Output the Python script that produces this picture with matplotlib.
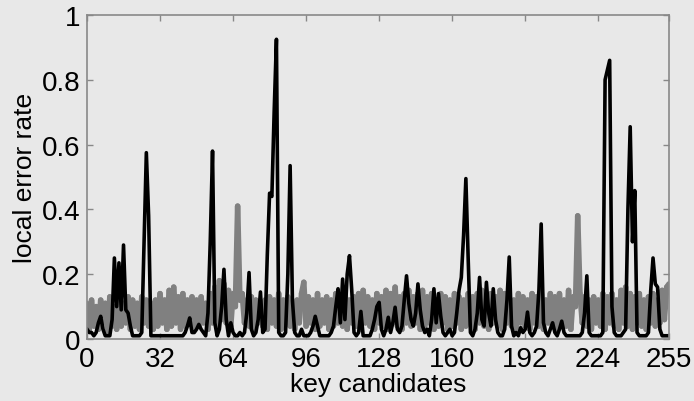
import numpy as np
import matplotlib
matplotlib.use('Agg')
import matplotlib.pyplot as plt
from matplotlib.collections import LineCollection

# error rate of the correct key hypothesis (black) per key candidate
correct = [
    0.03, 0.02, 0.02, 0.01, 0.02, 0.05, 0.07, 0.03, 0.01, 0.01, 0.01, 0.06, 0.25, 0.10, 0.235, 0.09,
    0.29, 0.09, 0.08, 0.04, 0.01, 0.01, 0.01, 0.01, 0.02, 0.30, 0.575, 0.38, 0.01, 0.01, 0.01, 0.01,
    0.01, 0.01, 0.01, 0.01, 0.01, 0.01, 0.01, 0.01, 0.01, 0.01, 0.01, 0.02, 0.04, 0.065, 0.02, 0.02,
    0.03, 0.045, 0.03, 0.02, 0.01, 0.08, 0.30, 0.58, 0.05, 0.01, 0.03, 0.10, 0.215, 0.06, 0.01, 0.05,
    0.02, 0.01, 0.01, 0.02, 0.01, 0.02, 0.08, 0.205, 0.03, 0.01, 0.02, 0.06, 0.145, 0.02, 0.03, 0.26,
    0.45, 0.44, 0.70, 0.925, 0.02, 0.01, 0.01, 0.02, 0.20, 0.535, 0.12, 0.02, 0.01, 0.01, 0.03, 0.01,
    0.01, 0.01, 0.02, 0.04, 0.07, 0.04, 0.01, 0.01, 0.01, 0.01, 0.01, 0.02, 0.04, 0.10, 0.155, 0.05,
    0.185, 0.06, 0.20, 0.257, 0.15, 0.02, 0.01, 0.02, 0.085, 0.01, 0.01, 0.01, 0.01, 0.03, 0.06, 0.10,
    0.113, 0.03, 0.01, 0.03, 0.067, 0.02, 0.05, 0.098, 0.03, 0.02, 0.04, 0.12, 0.195, 0.11, 0.06, 0.04,
    0.08, 0.17, 0.09, 0.04, 0.02, 0.03, 0.01, 0.06, 0.155, 0.05, 0.14, 0.07, 0.02, 0.01, 0.02, 0.03,
    0.01, 0.02, 0.08, 0.15, 0.19, 0.32, 0.495, 0.25, 0.02, 0.01, 0.03, 0.08, 0.19, 0.06, 0.04, 0.175,
    0.08, 0.04, 0.155, 0.06, 0.02, 0.01, 0.01, 0.03, 0.12, 0.253, 0.04, 0.01, 0.02, 0.01, 0.035, 0.02,
    0.03, 0.083, 0.02, 0.01, 0.02, 0.04, 0.15, 0.355, 0.05, 0.02, 0.01, 0.03, 0.05, 0.02, 0.01, 0.03,
    0.055, 0.02, 0.01, 0.01, 0.01, 0.01, 0.01, 0.01, 0.01, 0.02, 0.08, 0.195, 0.02, 0.01, 0.01, 0.01,
    0.01, 0.01, 0.02, 0.80, 0.83, 0.86, 0.10, 0.02, 0.01, 0.01, 0.01, 0.02, 0.03, 0.40, 0.655, 0.30,
    0.458, 0.02, 0.01, 0.01, 0.01, 0.01, 0.02, 0.15, 0.25, 0.17, 0.16, 0.03, 0.01, 0.01, 0.01, 0.01,
]

# error rate of the wrong hypotheses (gray band)
wrong = [
    0.11, 0.03, 0.12, 0.04, 0.10, 0.03, 0.12, 0.05, 0.11, 0.02, 0.13, 0.04, 0.10, 0.03, 0.12, 0.04,
    0.11, 0.05, 0.13, 0.03, 0.12, 0.04, 0.11, 0.03, 0.13, 0.05, 0.12, 0.04, 0.11, 0.03, 0.12, 0.04,
    0.14, 0.05, 0.12, 0.03, 0.15, 0.04, 0.16, 0.05, 0.13, 0.03, 0.14, 0.04, 0.12, 0.05, 0.13, 0.03,
    0.12, 0.04, 0.13, 0.05, 0.11, 0.03, 0.14, 0.05, 0.16, 0.04, 0.18, 0.06, 0.17, 0.05, 0.15, 0.04,
    0.14, 0.10, 0.41, 0.12, 0.14, 0.05, 0.12, 0.04, 0.13, 0.03, 0.12, 0.05, 0.11, 0.04, 0.12, 0.03,
    0.13, 0.05, 0.12, 0.04, 0.14, 0.03, 0.12, 0.05, 0.13, 0.04, 0.11, 0.03, 0.12, 0.05, 0.14, 0.175,
    0.04, 0.13, 0.05, 0.12, 0.03, 0.14, 0.04, 0.12, 0.05, 0.13, 0.03, 0.12, 0.04, 0.14, 0.05, 0.13,
    0.04, 0.15, 0.03, 0.12, 0.05, 0.13, 0.04, 0.14, 0.03, 0.15, 0.05, 0.13, 0.04, 0.12, 0.03, 0.14,
    0.05, 0.13, 0.04, 0.15, 0.03, 0.14, 0.05, 0.16, 0.04, 0.13, 0.03, 0.14, 0.05, 0.15, 0.04, 0.13,
    0.05, 0.14, 0.03, 0.15, 0.04, 0.13, 0.05, 0.14, 0.03, 0.12, 0.04, 0.14, 0.05, 0.13, 0.03, 0.12,
    0.04, 0.14, 0.05, 0.13, 0.03, 0.12, 0.04, 0.14, 0.05, 0.13, 0.03, 0.14, 0.05, 0.15, 0.04, 0.13,
    0.03, 0.14, 0.05, 0.13, 0.04, 0.15, 0.03, 0.14, 0.05, 0.13, 0.04, 0.12, 0.03, 0.14, 0.05, 0.13,
    0.04, 0.12, 0.03, 0.14, 0.05, 0.13, 0.04, 0.15, 0.03, 0.12, 0.05, 0.14, 0.04, 0.13, 0.03, 0.14,
    0.05, 0.12, 0.04, 0.15, 0.03, 0.13, 0.10, 0.38, 0.14, 0.05, 0.13, 0.04, 0.12, 0.03, 0.13, 0.05,
    0.12, 0.04, 0.14, 0.03, 0.13, 0.05, 0.14, 0.04, 0.12, 0.03, 0.15, 0.05, 0.16, 0.04, 0.14, 0.03,
    0.13, 0.05, 0.14, 0.04, 0.12, 0.03, 0.13, 0.05, 0.14, 0.04, 0.12, 0.05, 0.15, 0.06, 0.16, 0.17,
]

xticks = [0, 32, 64, 96, 128, 160, 192, 224, 255]
yticks = [0, 0.2, 0.4, 0.6, 0.8, 1]
yticklabels = ['0', '0.2', '0.4', '0.6', '0.8', '1']

plt.rcParams['font.family'] = ['Liberation Sans', 'DejaVu Sans']

bg = '#e8e8e8'
fig = plt.figure(figsize=(6.94, 4.02), dpi=100, facecolor=bg)
ax = fig.add_axes([87/694, 62/402, 582/694, 324/402], facecolor=bg)

k = np.arange(len(correct))

# gray curve drawn segment by segment: a single thick zigzag path leaves holes at the joins
pts = np.column_stack([k, wrong])
segs = np.stack([pts[:-1], pts[1:]], axis=1)
band = LineCollection(segs, colors='#808080', linewidths=4.0, capstyle='round')
ax.add_collection(band)

ax.plot(k, correct, color='black', lw=2.6, solid_joinstyle='round')

ax.set_xlim(0, 255)
ax.set_ylim(0, 1)
ax.set_xticks(xticks)
ax.set_yticks(yticks)
ax.set_yticklabels(yticklabels)
ax.tick_params(direction='in', length=4, width=1, color='#888888',
               top=True, right=True, labelsize=20, pad=5)
for s in ax.spines.values():
    s.set_color('#888888')
    s.set_linewidth(1.2)

ax.set_xlabel('key candidates', fontsize=19, labelpad=0)
ax.set_ylabel('local error rate', fontsize=19, labelpad=3)

fig.savefig('out.png', dpi=100, facecolor=bg)
